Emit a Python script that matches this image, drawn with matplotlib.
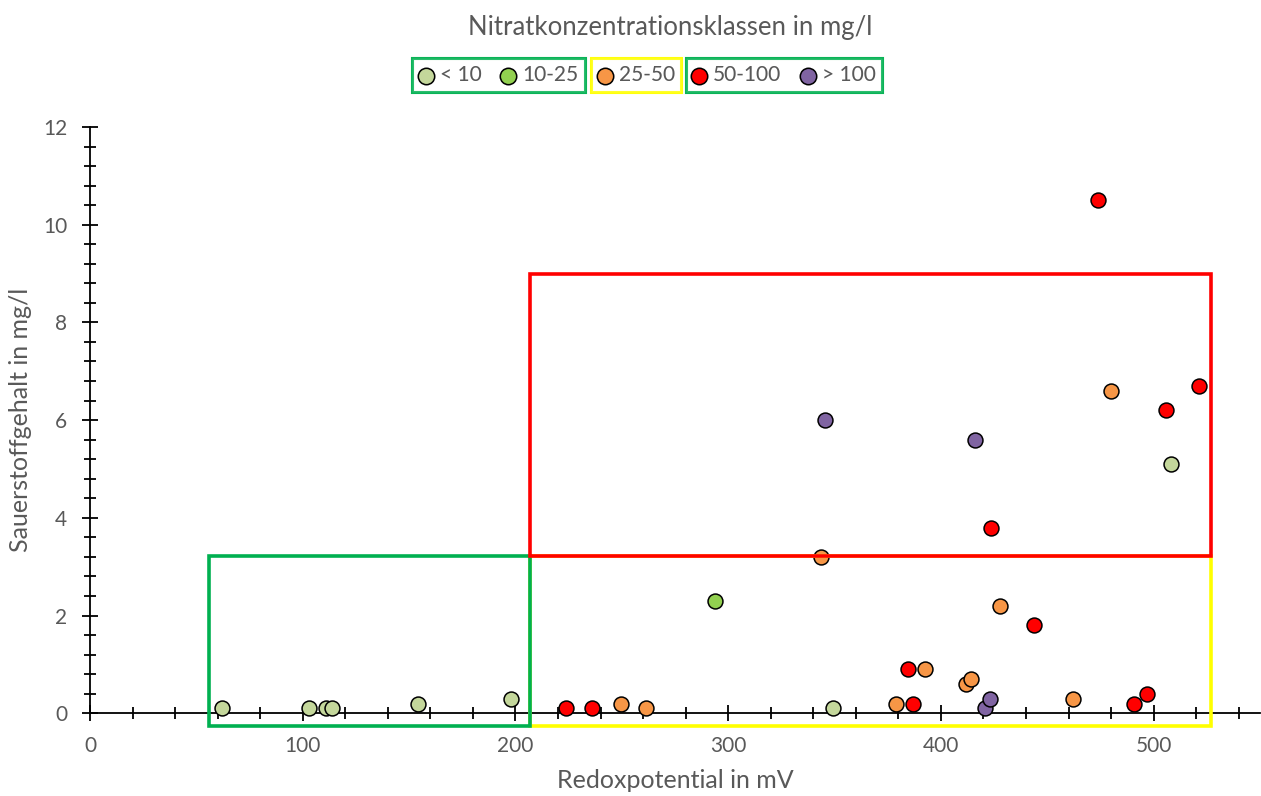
import matplotlib
matplotlib.use("Agg")
import matplotlib.pyplot as plt
from matplotlib.patches import Rectangle
from matplotlib.ticker import MultipleLocator

plt.rcParams['font.family'] = ['Lato', 'DejaVu Sans']

# Nitrat classes: redox potential (mV) and oxygen (mg/l)
lt10_x = [62, 103, 111, 113.6, 154, 198, 349.4, 508]
lt10_y = [0.1, 0.1, 0.1, 0.1, 0.2, 0.3, 0.1, 5.1]
c10_25_x = [293.6]
c10_25_y = [2.3]
c25_50_x = [249.4, 261.4, 343.7, 378.7, 392.7, 411.7, 414, 427.8, 462, 480]
c25_50_y = [0.2, 0.1, 3.2, 0.2, 0.9, 0.6, 0.7, 2.2, 0.3, 6.6]
c50_100_x = [223.6, 236, 384.6, 386.9, 423.7, 443.9, 473.8, 491, 497, 505.9, 521.4]
c50_100_y = [0.1, 0.1, 0.9, 0.2, 3.8, 1.8, 10.5, 0.2, 0.4, 6.2, 6.7]
gt100_x = [345.7, 415.9, 420.8, 423]
gt100_y = [6.0, 5.6, 0.1, 0.3]

labels = ['< 10', '10-25', '25-50', '50-100', '> 100']
colors = ['#C4D79B', '#92D050', '#F79646', '#FF0000', '#8064A2']
series = [(lt10_x, lt10_y), (c10_25_x, c10_25_y), (c25_50_x, c25_50_y),
          (c50_100_x, c50_100_y), (gt100_x, gt100_y)]

grey = '#595959'
fig = plt.figure(figsize=(12.61, 7.96), dpi=100)
ax = fig.add_axes([0.0714, 0.1039, 0.9278, 0.7366])

handles = []
for (xs, ys), c, lab in zip(series, colors, labels):
    h = ax.scatter(xs, ys, s=115, c=c, edgecolors='black', linewidths=1.1,
                   zorder=3, clip_on=False, label=lab)
    handles.append(h)

# highlight boxes
ax.add_patch(Rectangle((207, -0.25), 320, 3.46, fill=False, ec='#FFFF00',
                       lw=2.6, zorder=4, clip_on=False))
ax.add_patch(Rectangle((56, -0.26), 151, 3.47, fill=False, ec='#00B050',
                       lw=2.6, zorder=5, clip_on=False))
ax.add_patch(Rectangle((207, 3.21), 320, 5.79, fill=False, ec='#FF0000',
                       lw=2.6, zorder=6, clip_on=False))

ax.set_xlim(0, 550)
ax.set_ylim(0, 12)
ax.xaxis.set_major_locator(MultipleLocator(100))
ax.xaxis.set_minor_locator(MultipleLocator(20))
ax.yaxis.set_major_locator(MultipleLocator(2))
ax.yaxis.set_minor_locator(MultipleLocator(0.4))
for s in ['top', 'right']:
    ax.spines[s].set_visible(False)
for s in ['left', 'bottom']:
    ax.spines[s].set_linewidth(1.3)
ax.tick_params(which='major', direction='inout', length=11, width=1.3,
               labelsize=15, labelcolor=grey)
ax.tick_params(which='minor', direction='inout', length=8, width=1.3)
ax.tick_params(axis='x', which='major', pad=11)
ax.tick_params(axis='y', which='major', pad=11)

ax.set_xlabel('Redoxpotential in mV', fontsize=18, color=grey, labelpad=9)
ax.set_ylabel('Sauerstoffgehalt in mg/l', fontsize=18, color=grey, labelpad=8)

fig.text(0.5317, 0.966, 'Nitratkonzentrationsklassen in mg/l', fontsize=18.5,
         color=grey, ha='center', va='center')

# legend in three framed groups
groups = [([0, 1], '#00B050', 0.3953), ([2], '#FFFF00', 0.5046),
          ([3, 4], '#00B050', 0.6217)]
for idx, ec, xc in groups:
    leg = fig.legend([handles[i] for i in idx], [labels[i] for i in idx],
                     loc='center', bbox_to_anchor=(xc, 0.9058), ncol=len(idx),
                     fontsize=15, frameon=True, fancybox=False,
                     markerscale=1.1, handlelength=0.7, handletextpad=0.3,
                     columnspacing=0.95, borderpad=0.32, borderaxespad=0.2,
                     labelcolor=grey)
    leg.get_frame().set_edgecolor(ec)
    leg.get_frame().set_linewidth(2.2)
    fig.add_artist(leg)

fig.savefig('out.png', dpi=100)
